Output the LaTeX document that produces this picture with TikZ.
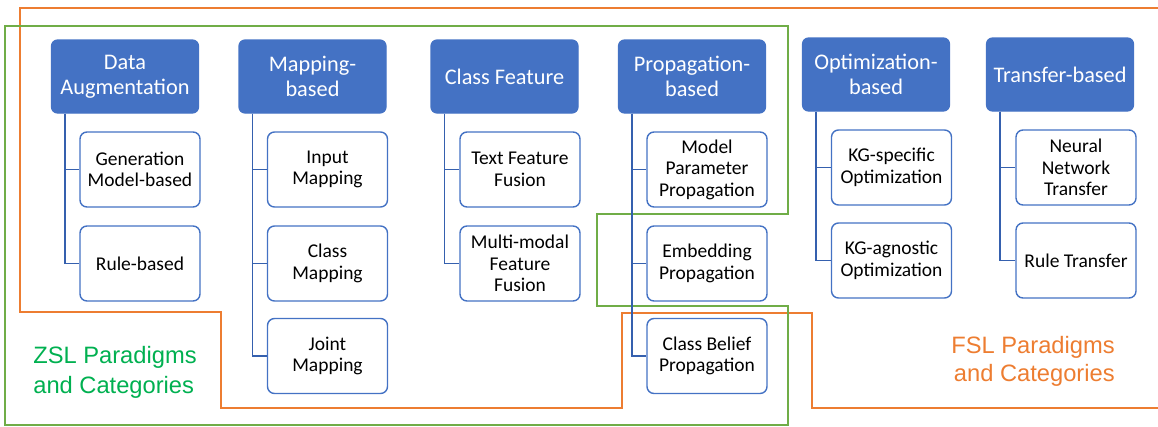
\documentclass[tikz,border=0pt]{standalone}
\usepackage{fontspec}
\setmainfont{Carlito}
\newfontfamily\labelfont{Liberation Sans}
\definecolor{boxblue}{HTML}{4472C4}
\definecolor{lineblue}{HTML}{3560AE}
\definecolor{zslgreen}{HTML}{70AD47}
\definecolor{zsltext}{HTML}{00B050}
\definecolor{fslorange}{HTML}{ED7D31}
\tikzset{
  hdr/.style={draw=boxblue, fill=boxblue, text=white, rounded corners=6pt, line width=1.2pt,
    minimum width=147pt, minimum height=73pt, inner sep=3pt, align=center,
    font=\fontsize{22.3}{25}\selectfont},
  leaf/.style={draw=boxblue, fill=white, text=black, rounded corners=7pt, line width=1.4pt,
    minimum width=120pt, minimum height=75pt, inner sep=3pt, align=center,
    font=\fontsize{19.5}{21.5}\selectfont},
  conn/.style={draw=lineblue, line width=1.8pt},
  outline/.style={line width=1.5pt}
}
\begin{document}
\begin{tikzpicture}[x=1pt, y=-1pt]
    \useasboundingbox (0,0) rectangle (1158,426);
    \draw[outline, fslorange] (1160,8) -- (20,8) -- (20,312) -- (221,312) -- (221,408) -- (622,408)
      -- (622,313) -- (812,313) -- (812,408) -- (1160,408);
    \draw[outline, zslgreen] (5,26) -- (788,26) -- (788,214) -- (597,214) -- (597,306) -- (788,306)
      -- (788,425) -- (5,425) -- cycle;
    \node[hdr] (da) at (125,76.5) {Data\\Augmentation};
    \node[hdr] (mb) at (312.5,76.5) {Mapping-\\based};
    \node[hdr] (cf) at (504.5,76.5) {Class Feature};
    \node[hdr] (pb) at (692,76.5) {Propagation-\\based};
    \node[hdr] (ob) at (876,74.5) {Optimization-\\based};
    \node[hdr] (tb) at (1060,74.5) {Transfer-based};
    \node[leaf] (gm) at (140,169.5) {Generation\\Model-based};
    \node[leaf] (rb) at (140,263.5) {Rule-based};
    \node[leaf] (im) at (327.5,169.5) {Input\\Mapping};
    \node[leaf] (cm) at (327.5,263.5) {Class\\Mapping};
    \node[leaf] (jm) at (327.5,356) {Joint\\Mapping};
    \node[leaf] (tf) at (520,169.5) {Text Feature\\Fusion};
    \node[leaf] (mf) at (520,263.5) {Multi-modal\\Feature\\Fusion};
    \node[leaf] (mp) at (707,169.5) {Model\\Parameter\\Propagation};
    \node[leaf] (ep) at (707,263.5) {Embedding\\Propagation};
    \node[leaf] (bp) at (707,356) {Class Belief\\Propagation};
    \node[leaf] (ks) at (891.5,167.5) {KG-specific\\Optimization};
    \node[leaf] (ka) at (891.5,260.5) {KG-agnostic\\Optimization};
    \node[leaf] (nt) at (1076,167.5) {Neural\\Network\\Transfer};
    \node[leaf] (rt) at (1076,260.5) {Rule Transfer};
    \draw[conn] ([xshift=14pt]da.south west) |- (gm.west);
    \draw[conn] ([xshift=14pt]da.south west) |- (rb.west);
    \draw[conn] ([xshift=14pt]mb.south west) |- (im.west);
    \draw[conn] ([xshift=14pt]mb.south west) |- (cm.west);
    \draw[conn] ([xshift=14pt]mb.south west) |- (jm.west);
    \draw[conn] ([xshift=14pt]cf.south west) |- (tf.west);
    \draw[conn] ([xshift=14pt]cf.south west) |- (mf.west);
    \draw[conn] ([xshift=14pt]pb.south west) |- (mp.west);
    \draw[conn] ([xshift=14pt]pb.south west) |- (ep.west);
    \draw[conn] ([xshift=14pt]pb.south west) |- (bp.west);
    \draw[conn] ([xshift=14pt]ob.south west) |- (ks.west);
    \draw[conn] ([xshift=14pt]ob.south west) |- (ka.west);
    \draw[conn] ([xshift=14pt]tb.south west) |- (nt.west);
    \draw[conn] ([xshift=14pt]tb.south west) |- (rt.west);
    \node[text=zsltext, align=left, font=\labelfont\fontsize{23.7}{30}\selectfont] (zsl) at (115,372)
      {ZSL Paradigms\\and Categories};
    \node[text=fslorange, align=right, font=\labelfont\fontsize{23.7}{28}\selectfont] (fsl) at (1033,361)
      {FSL Paradigms\\and Categories};
\end{tikzpicture}
\end{document}
